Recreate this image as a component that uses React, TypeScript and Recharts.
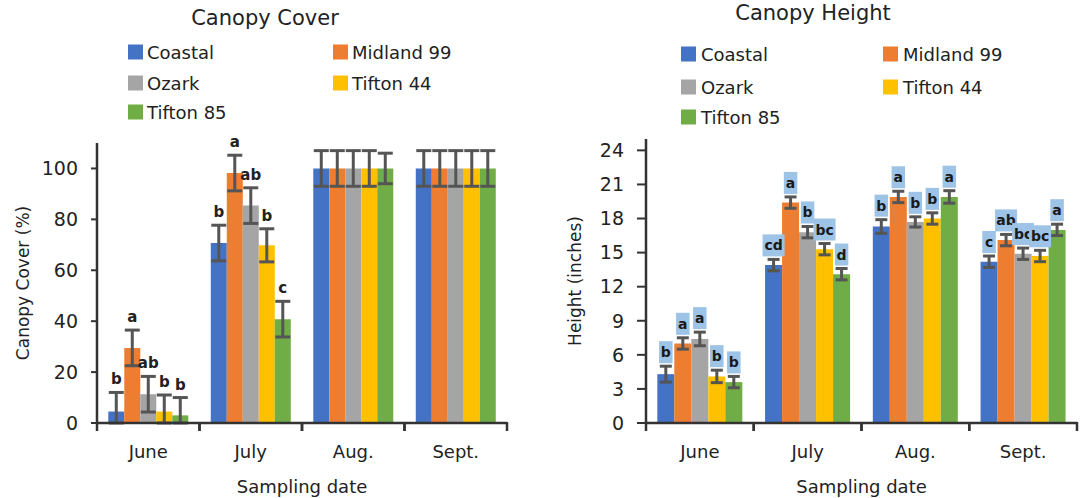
import React from 'react';
import { BarChart, Bar, XAxis, YAxis, ErrorBar, LabelList, Label } from 'recharts';

const MONTHS = ['June', 'July', 'Aug.', 'Sept.'];
const VARIETIES = ['Coastal', 'Midland 99', 'Ozark', 'Tifton 44', 'Tifton 85'];
const KEYS = ['coastal', 'midland', 'ozark', 'tifton44', 'tifton85'];
const COLORS = ['#4472c4', '#ed7d31', '#a5a5a5', '#ffc000', '#70ad47'];

// canopy cover (%), one array per variety, June..Sept.
const coverCoastal = [4.5, 70.7, 100, 100];
const coverMidland = [29.5, 98.2, 100, 100];
const coverOzark = [11.3, 85.4, 100, 100];
const coverTifton44 = [4.5, 69.8, 100, 100];
const coverTifton85 = [3, 40.8, 100, 100];

const coverErrCoastal = [7.5, 7, 7, 7];
const coverErrMidland = [7, 7, 7, 7];
const coverErrOzark = [7, 7, 7, 7];
const coverErrTifton44 = [6.5, 6.5, 7, 7];
const coverErrTifton85 = [7, 7, 6, 7];

const coverLetCoastal = ['b', 'b', '', ''];
const coverLetMidland = ['a', 'a', '', ''];
const coverLetOzark = ['ab', 'ab', '', ''];
const coverLetTifton44 = ['b', 'b', '', ''];
const coverLetTifton85 = ['b', 'c', '', ''];

// canopy height (inches)
const heightCoastal = [4.3, 13.9, 17.3, 14.2];
const heightMidland = [7.0, 19.4, 19.9, 16.1];
const heightOzark = [7.4, 16.8, 17.7, 14.9];
const heightTifton44 = [4.1, 15.3, 18.0, 14.7];
const heightTifton85 = [3.6, 13.1, 19.9, 17.0];

const heightErrCoastal = [0.7, 0.5, 0.6, 0.5];
const heightErrMidland = [0.5, 0.5, 0.5, 0.5];
const heightErrOzark = [0.6, 0.5, 0.45, 0.5];
const heightErrTifton44 = [0.55, 0.5, 0.5, 0.5];
const heightErrTifton85 = [0.5, 0.5, 0.55, 0.5];

const heightLetCoastal = ['b', 'cd', 'b', 'c'];
const heightLetMidland = ['a', 'a', 'a', 'ab'];
const heightLetOzark = ['a', 'b', 'b', 'bc'];
const heightLetTifton44 = ['b', 'bc', 'b', 'bc'];
const heightLetTifton85 = ['b', 'd', 'a', 'a'];

const COVER_TICKS = [0, 20, 40, 60, 80, 100];
const HEIGHT_TICKS = [0, 3, 6, 9, 12, 15, 18, 21, 24];

const FONT = "'DejaVu Sans', Verdana, sans-serif";
const AXIS = '#333333';
const ERR = '#555555';
const BOX = '#9dc3e6';

// error bars are cut off at the x axis, as in the original figure
const buildRows = (values: number[][], errs: number[][], letters: string[][]) =>
  MONTHS.map((month, i) => {
    const row: Record<string, any> = { month };
    KEYS.forEach((k, s) => {
      const v = values[s][i];
      const e = errs[s][i];
      row[k] = v;
      row[k + 'Hi'] = e;
      row[k + 'Err'] = [Math.min(e, v), e];
      row[k + 'Lab'] = letters[s][i];
    });
    return row;
  });

const coverRows = buildRows(
  [coverCoastal, coverMidland, coverOzark, coverTifton44, coverTifton85],
  [coverErrCoastal, coverErrMidland, coverErrOzark, coverErrTifton44, coverErrTifton85],
  [coverLetCoastal, coverLetMidland, coverLetOzark, coverLetTifton44, coverLetTifton85]
);

const heightRows = buildRows(
  [heightCoastal, heightMidland, heightOzark, heightTifton44, heightTifton85],
  [heightErrCoastal, heightErrMidland, heightErrOzark, heightErrTifton44, heightErrTifton85],
  [heightLetCoastal, heightLetMidland, heightLetOzark, heightLetTifton44, heightLetTifton85]
);

// month label plus boundary tick marks between categories
const MonthTick = (props: any) => {
  const { x, y, payload, halfBand } = props;
  const off = payload && payload.offset ? payload.offset : halfBand;
  return (
    <g>
      <line x1={x - off} x2={x - off} y1={y - 1} y2={y + 8} stroke={AXIS} strokeWidth={2.5} />
      <line x1={x + off} x2={x + off} y1={y - 1} y2={y + 8} stroke={AXIS} strokeWidth={2.5} />
      <text x={x} y={y + 35} textAnchor="middle" fontSize={18} fill="#222" fontFamily={FONT}>
        {payload.value}
      </text>
    </g>
  );
};

// y of the top of the error bar, from the bar geometry
const errTop = (props: any, rows: any[], key: string) => {
  const { y, height, index } = props;
  const row = rows[index];
  if (!row) return y;
  const v = row[key];
  const e = row[key + 'Hi'];
  const pxPerUnit = v ? height / v : 0;
  return y - e * pxPerUnit;
};

const makeCoverLabel = (key: string) => (props: any) => {
  const { x, width, value } = props;
  if (!value) return null;
  const top = errTop(props, coverRows, key);
  return (
    <text x={x + width / 2} y={top - 8} textAnchor="middle" fontSize={15} fontWeight="bold" fill="#222" fontFamily={FONT}>
      {value}
    </text>
  );
};

const makeHeightLabel = (key: string) => (props: any) => {
  const { x, width, value } = props;
  if (!value) return null;
  const top = errTop(props, heightRows, key);
  const w = String(value).length * 8.5 + 5;
  const h = 22;
  const cx = x + width / 2;
  const bottom = top - 3;
  return (
    <g>
      <rect x={cx - w / 2} y={bottom - h} width={w} height={h} fill={BOX} />
      <text x={cx} y={bottom - 6} textAnchor="middle" fontSize={14} fontWeight="bold" fill="#1a1a1a" fontFamily={FONT}>
        {value}
      </text>
    </g>
  );
};

const LegendBlock = ({ cols, rows, textGap }: { cols: number[]; rows: number[]; textGap: number }) => (
  <g>
    {VARIETIES.map((name, i) => {
      const cx = cols[i % 2];
      const cy = rows[Math.floor(i / 2)];
      return (
        <g key={name}>
          <rect x={cx} y={cy - 7.5} width={15} height={15} fill={COLORS[i]} />
          <text x={cx + textGap} y={cy} dominantBaseline="central" fontSize={18} fill="#222" fontFamily={FONT}>
            {name}
          </text>
        </g>
      );
    })}
  </g>
);

const App: React.FC = () => {
  return (
    <div style={{ position: 'absolute', left: 0, top: 0, width: 1086, height: 498, background: '#fff', fontFamily: FONT }}>
      <div style={{ position: 'absolute', left: 0, top: 0 }}>
        <BarChart
          width={540}
          height={498}
          data={coverRows}
          margin={{ top: 143, right: 33, left: 12, bottom: 0 }}
          barCategoryGap="11%"
          barGap={0}
        >
          <XAxis
            dataKey="month"
            height={75}
            tickLine={false}
            tickSize={0}
            tickMargin={0}
            axisLine={{ stroke: AXIS, strokeWidth: 2.5 }}
            tick={<MonthTick halfBand={51.25} />}
            interval={0}
          >
            <Label value="Sampling date" position="insideBottom" offset={5} fontSize={18} fill="#222" fontFamily={FONT} />
          </XAxis>
          <YAxis
            type="number"
            domain={[0, 110]}
            allowDataOverflow
            ticks={COVER_TICKS}
            width={85}
            tickSize={6}
            tickMargin={13}
            tickLine={{ stroke: AXIS, strokeWidth: 2 }}
            axisLine={{ stroke: AXIS, strokeWidth: 2.5 }}
            tick={{ fill: '#222', fontSize: 19, fontFamily: FONT }}
            interval={0}
          >
            <Label
              value="Canopy Cover (%)"
              angle={-90}
              position="insideLeft"
              offset={11}
              fontSize={17}
              fill="#222"
              fontFamily={FONT}
              style={{ textAnchor: 'middle' }}
            />
          </YAxis>
          {KEYS.map((k, i) => (
            <Bar key={k} dataKey={k} name={VARIETIES[i]} fill={COLORS[i]} isAnimationActive={false}>
              <ErrorBar dataKey={k + 'Err'} width={7.5} strokeWidth={3} stroke={ERR} direction="y" isAnimationActive={false} />
              <LabelList dataKey={k + 'Lab'} content={makeCoverLabel(k)} />
            </Bar>
          ))}
        </BarChart>
      </div>

      <div style={{ position: 'absolute', left: 560, top: 0 }}>
        <BarChart
          width={526}
          height={498}
          data={heightRows}
          margin={{ top: 139, right: 9, left: 6, bottom: 0 }}
          barCategoryGap="10.5%"
          barGap={0}
        >
          <XAxis
            dataKey="month"
            height={75}
            tickLine={false}
            tickSize={0}
            tickMargin={0}
            axisLine={{ stroke: AXIS, strokeWidth: 2.5 }}
            tick={<MonthTick halfBand={53.9} />}
            interval={0}
          >
            <Label value="Sampling date" position="insideBottom" offset={5} fontSize={18} fill="#222" fontFamily={FONT} />
          </XAxis>
          <YAxis
            type="number"
            domain={[0, 25]}
            allowDataOverflow
            ticks={HEIGHT_TICKS}
            width={80}
            tickSize={9}
            tickMargin={13}
            tickLine={{ stroke: AXIS, strokeWidth: 2 }}
            axisLine={{ stroke: AXIS, strokeWidth: 2.5 }}
            tick={{ fill: '#222', fontSize: 19, fontFamily: FONT }}
            interval={0}
          >
            <Label
              value="Height (inches)"
              angle={-90}
              position="insideLeft"
              offset={9}
              fontSize={17}
              fill="#222"
              fontFamily={FONT}
              style={{ textAnchor: 'middle' }}
            />
          </YAxis>
          {KEYS.map((k, i) => (
            <Bar key={k} dataKey={k} name={VARIETIES[i]} fill={COLORS[i]} isAnimationActive={false}>
              <ErrorBar dataKey={k + 'Err'} width={6} strokeWidth={3} stroke={ERR} direction="y" isAnimationActive={false} />
              <LabelList dataKey={k + 'Lab'} content={makeHeightLabel(k)} />
            </Bar>
          ))}
        </BarChart>
      </div>

      <svg width={1086} height={498} style={{ position: 'absolute', left: 0, top: 0, pointerEvents: 'none' }}>
        <text x={265} y={18} textAnchor="middle" dominantBaseline="central" fontSize={21} fill="#222" fontFamily={FONT}>
          Canopy Cover
        </text>
        <text x={813} y={13} textAnchor="middle" dominantBaseline="central" fontSize={21} fill="#222" fontFamily={FONT}>
          Canopy Height
        </text>
        <LegendBlock cols={[128, 333]} rows={[52, 83, 112]} textGap={19} />
        <LegendBlock cols={[681, 883]} rows={[54, 87, 117]} textGap={20} />
      </svg>
    </div>
  );
};

export default App;
